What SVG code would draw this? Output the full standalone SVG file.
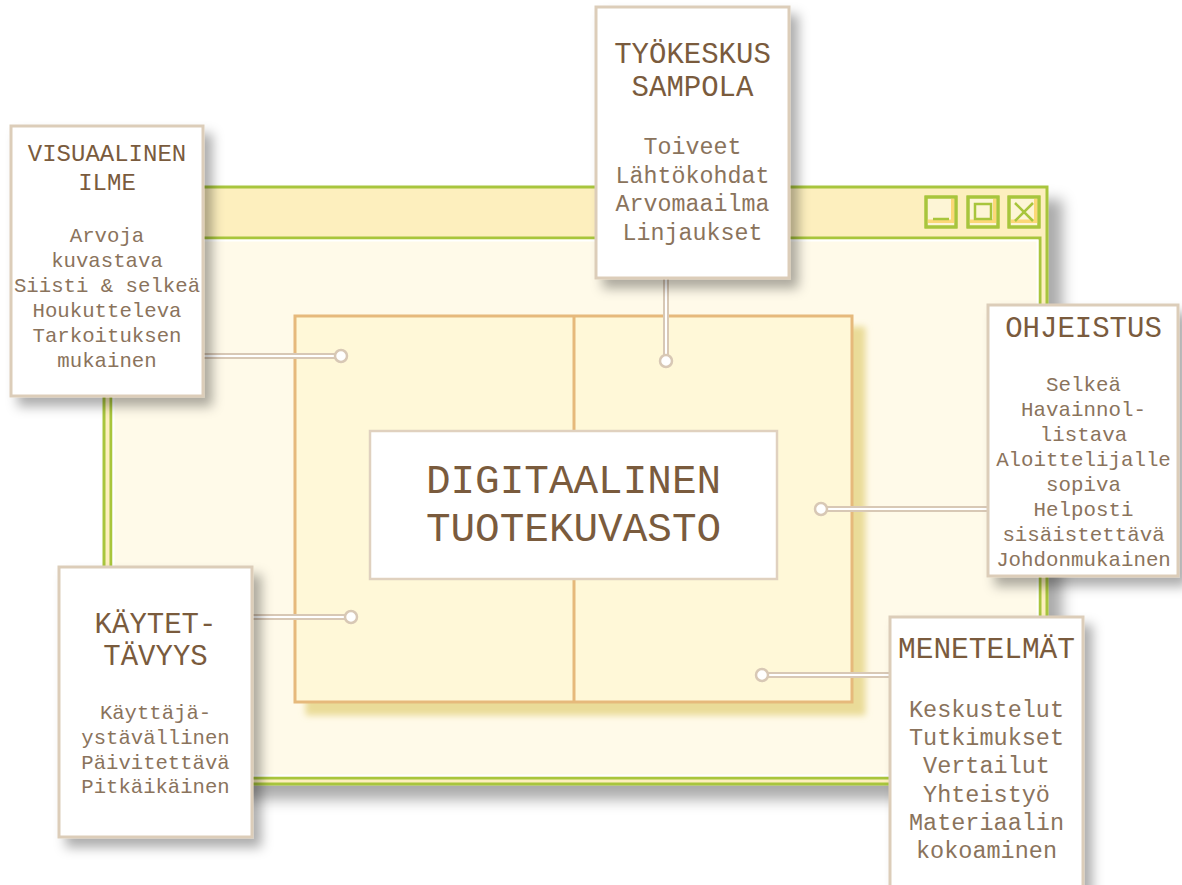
<svg xmlns="http://www.w3.org/2000/svg" width="1182" height="885" viewBox="0 0 1182 885">
<defs>
<filter id="winShadow" x="-10%" y="-10%" width="130%" height="130%">
<feDropShadow dx="14" dy="14" stdDeviation="7" flood-color="#000" flood-opacity="0.33"/>
</filter>
<filter id="boxShadow" x="-20%" y="-20%" width="150%" height="150%">
<feDropShadow dx="8" dy="9" stdDeviation="6" flood-color="#000" flood-opacity="0.32"/>
</filter>
<filter id="panelShadow" x="-10%" y="-10%" width="130%" height="130%">
<feDropShadow dx="12" dy="12" stdDeviation="3" flood-color="#e6d68a" flood-opacity="0.85"/>
</filter>
<style>
.win{fill:#fdefbe;stroke:#a8c53c;stroke-width:3}
.content{fill:#fffae9;stroke:#a8c53c;stroke-width:3}
.hl{fill:none;stroke:#ffffff;stroke-width:2}
.btn{fill:#fdf5d6;stroke:#a8c53c;stroke-width:3}
.shade{fill:#fcd877}
.ico{fill:none;stroke:#a8c53c;stroke-width:2.5}
.panel{fill:#fff8d8;stroke:#e6b97b;stroke-width:3}
.box{fill:#ffffff;stroke:#dccdb9;stroke-width:3}
.t{font-family:"Liberation Mono","Courier New",monospace;text-anchor:middle;fill:#7a5b3d}
.b{font-family:"Liberation Mono","Courier New",monospace;text-anchor:middle;fill:#8a735c}
.lo{fill:none;stroke:#d8c8b5;stroke-width:6}
.li{fill:none;stroke:#ffffff;stroke-width:2}
.dot{fill:#ffffff;stroke:#d8c8b5;stroke-width:2.5}
</style>
</defs>
<rect width="1182" height="885" fill="#ffffff"/>

<g id="window">
<rect class="win" x="104" y="187" width="943" height="597" filter="url(#winShadow)"/>
<rect class="content" x="111" y="238" width="929" height="540"/>
<rect class="hl" x="113.5" y="240.5" width="924" height="535"/>
<g id="btn-min">
<rect class="btn" x="926" y="197" width="30" height="30"/>
<path class="shade" d="M927.5 223 H954.5 V198.5 H951 V219.5 H927.5 Z"/>
<rect fill="none" stroke="#a8c53c" stroke-width="3" x="926" y="197" width="30" height="30"/>
<line class="ico" x1="933" y1="219" x2="949" y2="219"/>
</g>
<g id="btn-max">
<rect class="btn" x="968" y="197" width="30" height="30"/>
<path class="shade" d="M969.5 223 H996.5 V198.5 H993 V219.5 H969.5 Z"/>
<rect fill="none" stroke="#a8c53c" stroke-width="3" x="968" y="197" width="30" height="30"/>
<rect class="ico" x="975" y="204" width="16" height="15"/>
</g>
<g id="btn-close">
<rect class="btn" x="1009" y="197" width="30" height="30"/>
<path class="shade" d="M1010.5 223 H1037.5 V198.5 H1034 V219.5 H1010.5 Z"/>
<rect fill="none" stroke="#a8c53c" stroke-width="3" x="1009" y="197" width="30" height="30"/>
<path class="ico" d="M1015 203 L1033 221 M1033 203 L1015 221"/>
</g>
</g>

<g id="panel">
<rect class="panel" x="295" y="316" width="557" height="386" filter="url(#panelShadow)"/>
<line x1="574" y1="316" x2="574" y2="702" stroke="#e6b97b" stroke-width="3"/>
</g>

<g id="center">
<rect x="370" y="431" width="407" height="148" fill="#ffffff" stroke="#e0d1bf" stroke-width="2.5"/>
<text class="t" x="573.5" y="493" font-size="41">DIGITAALINEN</text>
<text class="t" x="573.5" y="541" font-size="41">TUOTEKUVASTO</text>
</g>

<g id="connectors">
<path class="lo" d="M203 356 H336"/><path class="li" d="M203 356 H336"/>
<circle class="dot" cx="341" cy="356" r="6"/>
<path class="lo" d="M666 278 V356"/><path class="li" d="M666 278 V356"/>
<circle class="dot" cx="666" cy="361" r="6"/>
<path class="lo" d="M988 509 H826"/><path class="li" d="M988 509 H826"/>
<circle class="dot" cx="821" cy="509" r="6"/>
<path class="lo" d="M252 617 H346"/><path class="li" d="M252 617 H346"/>
<circle class="dot" cx="351" cy="617" r="6"/>
<path class="lo" d="M890 675 H767"/><path class="li" d="M890 675 H767"/>
<circle class="dot" cx="762" cy="675" r="6"/>
</g>

<g id="node-visuaalinen">
<rect class="box" x="11" y="126" width="192" height="270" filter="url(#boxShadow)"/>
<text class="t" x="107" y="161" font-size="24">VISUAALINEN</text>
<text class="t" x="107" y="190" font-size="24">ILME</text>
<g class="b" font-size="20.7">
<text x="107" y="242">Arvoja</text>
<text x="107" y="267">kuvastava</text>
<text x="107" y="292">Siisti &amp; selkeä</text>
<text x="107" y="317">Houkutteleva</text>
<text x="107" y="342">Tarkoituksen</text>
<text x="107" y="367">mukainen</text>
</g>
</g>

<g id="node-tyokeskus">
<rect class="box" x="596" y="7" width="193" height="271" filter="url(#boxShadow)"/>
<text class="t" x="692.5" y="63" font-size="29">TYÖKESKUS</text>
<text class="t" x="692.5" y="96" font-size="29">SAMPOLA</text>
<g class="b" font-size="23.3">
<text x="692.5" y="154">Toiveet</text>
<text x="692.5" y="183">Lähtökohdat</text>
<text x="692.5" y="211">Arvomaailma</text>
<text x="692.5" y="240">Linjaukset</text>
</g>
</g>

<g id="node-ohjeistus">
<rect class="box" x="988" y="305" width="190" height="271" filter="url(#boxShadow)"/>
<text class="t" x="1083.5" y="337" font-size="29">OHJEISTUS</text>
<g class="b" font-size="20.8">
<text x="1083.5" y="391">Selkeä</text>
<text x="1083.5" y="416">Havainnol-</text>
<text x="1083.5" y="441">listava</text>
<text x="1083.5" y="466">Aloittelijalle</text>
<text x="1083.5" y="491">sopiva</text>
<text x="1083.5" y="516">Helposti</text>
<text x="1083.5" y="541">sisäistettävä</text>
<text x="1083.5" y="566">Johdonmukainen</text>
</g>
</g>

<g id="node-menetelmat">
<rect class="box" x="890" y="617" width="193" height="280" filter="url(#boxShadow)"/>
<text class="t" x="986.5" y="658" font-size="29.5">MENETELMÄT</text>
<g class="b" font-size="23.5">
<text x="986.5" y="717">Keskustelut</text>
<text x="986.5" y="745">Tutkimukset</text>
<text x="986.5" y="773">Vertailut</text>
<text x="986.5" y="802">Yhteistyö</text>
<text x="986.5" y="830">Materiaalin</text>
<text x="986.5" y="858">kokoaminen</text>
</g>
</g>

<g id="node-kaytettavyys">
<rect class="box" x="59" y="567" width="193" height="270" filter="url(#boxShadow)"/>
<text class="t" x="155.5" y="633" font-size="29">KÄYTET-</text>
<text class="t" x="155.5" y="665" font-size="29">TÄVYYS</text>
<g class="b" font-size="20.6">
<text x="155.5" y="719">Käyttäjä-</text>
<text x="155.5" y="744">ystävällinen</text>
<text x="155.5" y="769">Päivitettävä</text>
<text x="155.5" y="793">Pitkäikäinen</text>
</g>
</g>
</svg>
